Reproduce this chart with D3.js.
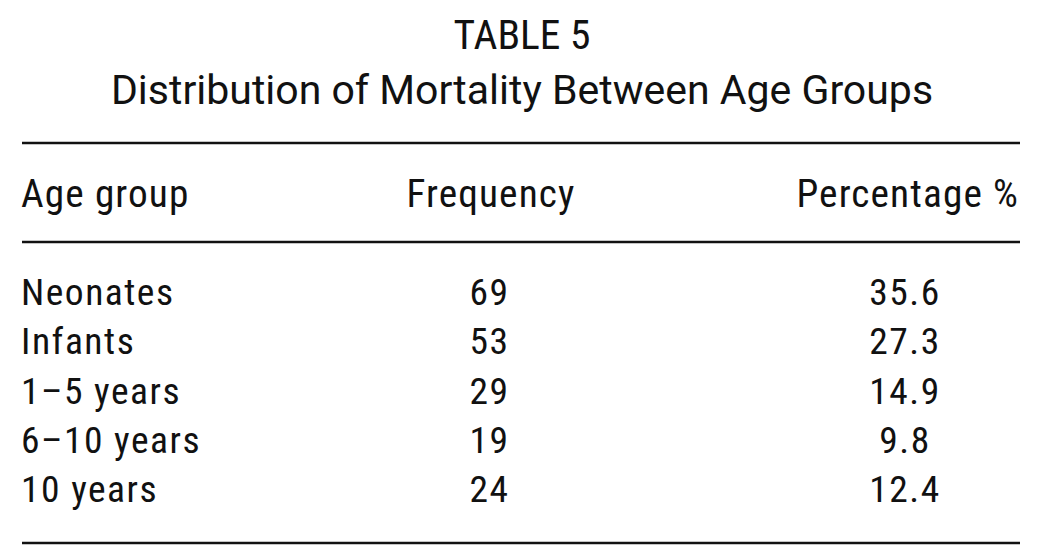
<!DOCTYPE html>
<html>
<head>
<meta charset="utf-8">
<script src="https://cdn.jsdelivr.net/npm/d3@7"></script>
<style>
  body { margin: 0; background: #fff; }
  text { font-family: "Roboto Condensed", "DejaVu Sans Condensed", sans-serif; fill: #111; }
  text.sub { font-family: Roboto, "Noto Sans", sans-serif; }
</style>
</head>
<body>
<div id="table"></div>
<script>
// table content
var titleLines = ["TABLE 5", "Distribution of Mortality Between Age Groups"];
var columns = ["Age group", "Frequency", "Percentage %"];
var groups = ["Neonates", "Infants", "1\u20135 years", "6\u201310 years", "10 years"];
var frequency = [69, 53, 29, 19, 24];
var percentage = [35.6, 27.3, 14.9, 9.8, 12.4];

var width = 1042, height = 558;
var left = 22, right = 1020;

var svg = d3.select("#table").append("svg")
    .attr("width", width)
    .attr("height", height);

// row baselines
var y = d3.scalePoint().domain(groups).range([305, 502]);

// title, two lines
svg.selectAll(".title").data(titleLines).enter().append("text")
    .attr("class", function (d, i) { return i == 0 ? "title" : "title sub"; })
    .attr("x", 522)
    .attr("y", function (d, i) { return i == 0 ? 49 : 104; })
    .attr("text-anchor", "middle")
    .style("font-size", function (d, i) { return i == 0 ? "41.5px" : "41px"; })
    .text(function (d) { return d; });

// horizontal rules
svg.selectAll(".rule").data([143, 242, 543]).enter().append("line")
    .attr("class", "rule")
    .attr("x1", left).attr("x2", right)
    .attr("y1", function (d) { return d; })
    .attr("y2", function (d) { return d; })
    .attr("stroke", "#111")
    .attr("stroke-width", 2.6);

// column headers
var headX = [21, 491, 1019];
var headAnchor = ["start", "middle", "end"];
svg.selectAll(".colhead").data(columns).enter().append("text")
    .attr("class", "colhead")
    .attr("x", function (d, i) { return headX[i]; })
    .attr("y", 207)
    .attr("text-anchor", function (d, i) { return headAnchor[i]; })
    .style("font-size", "39.3px")
    .style("letter-spacing", "1.1px")
    .text(function (d) { return d; });

// body rows
var rows = svg.selectAll(".row").data(groups).enter().append("g")
    .attr("class", "row")
    .attr("transform", function (d) { return "translate(0," + y(d) + ")"; })
    .style("font-size", "37.5px")
    .style("letter-spacing", "1.5px");

rows.append("text")
    .attr("x", 21)
    .text(function (d) { return d; });

rows.append("text")
    .attr("x", 509.5)
    .attr("text-anchor", "end")
    .text(function (d, i) { return frequency[i]; });

rows.append("text")
    .attr("x", 905)
    .attr("text-anchor", "middle")
    .text(function (d, i) { return d3.format(".1f")(percentage[i]); });
</script>
</body>
</html>
